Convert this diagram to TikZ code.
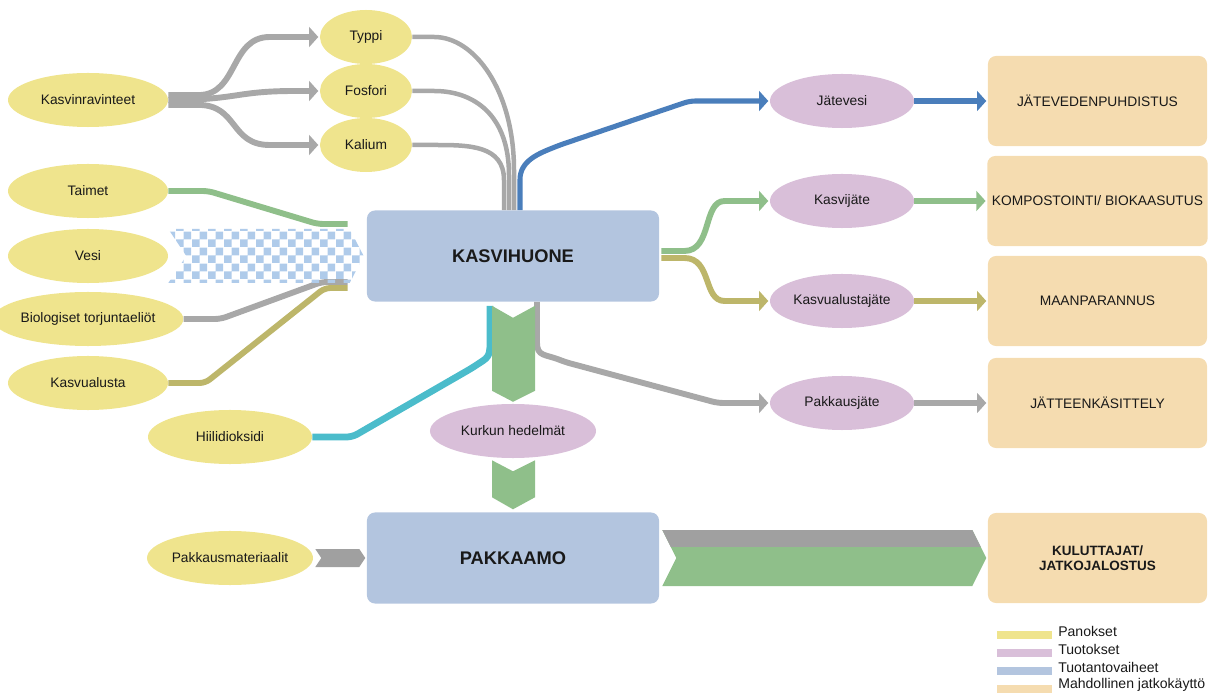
\documentclass[tikz,border=0pt]{standalone}
\usepackage{fontspec}
\setmainfont{Liberation Sans}
\usetikzlibrary{shapes.geometric,arrows.meta,patterns,calc}

\definecolor{cPanos}{HTML}{EFE48D}
\definecolor{cTuotos}{HTML}{D9BFD9}
\definecolor{cVaihe}{HTML}{B3C5DF}
\definecolor{cJatko}{HTML}{F5DCB0}
\definecolor{cGray}{HTML}{A8A8A8}
\definecolor{cGreen}{HTML}{8FBF8A}
\definecolor{cOlive}{HTML}{BDB66A}
\definecolor{cBlue}{HTML}{4A7EBB}
\definecolor{cCyan}{HTML}{4BBCCB}
\definecolor{cVesi}{HTML}{AFCBEA}
\newcommand\lblfont{\fontsize{9.8}{11}\selectfont}

\tikzset{
  input/.style={ellipse, fill=cPanos, inner sep=0pt, minimum width=4cm, minimum height=1.35cm, font=\lblfont, text=black!90},
  nutrient/.style={input, minimum width=2.3cm},
  output/.style={ellipse, fill=cTuotos, inner sep=0pt, minimum width=3.6cm, minimum height=1.35cm, font=\lblfont, text=black!90},
  stage/.style={rectangle, rounded corners=0.2cm, fill=cVaihe, minimum width=7.3cm, minimum height=2.275cm, font=\bfseries\fontsize{13}{15}\selectfont, text=black!90},
  reuse/.style={rectangle, rounded corners=0.2cm, fill=cJatko, minimum width=5.475cm, minimum height=2.25cm, font=\lblfont, text=black!90, align=center},
  flow/.style={line width=4.2pt},
  thinflow/.style={line width=3.2pt},
  flowarrow/.style={-{Triangle[length=6.5pt,width=14pt]}, shorten >=1pt}
}

\begin{document}
\begin{tikzpicture}[x=0.025cm,y=-0.025cm]
\useasboundingbox (0,0) rectangle (1212,695);

% panokset
\node[input] (ravinteet) at (88,100) {Kasvinravinteet};
\node[nutrient] (typpi) at (366,37) {Typpi};
\node[nutrient] (fosfori) at (366,91) {Fosfori};
\node[nutrient] (kalium) at (366,145) {Kalium};
\node[input] (taimet) at (88,191) {Taimet};
\node[input] (vesi) at (88,256) {Vesi};
\node[input] (torjunta) at (88,319) {Biologiset torjuntaeliöt};
\node[input] (kasvualusta) at (88,383) {Kasvualusta};
\node[input, minimum width=4.1cm] (hiili) at (230,437) {Hiilidioksidi};
\node[input, minimum width=4.15cm] (pakkmat) at (230,558) {Pakkausmateriaalit};

% vaiheet
\node[stage] (kasvihuone) at (513,256) {KASVIHUONE};
\node[stage] (pakkaamo) at (513,558) {PAKKAAMO};

% tuotokset
\node[output, minimum width=4.15cm] (kurkku) at (513,431) {Kurkun hedelmät};
\node[output] (jatevesi) at (842,101) {Jätevesi};
\node[output] (kasvijate) at (842,201) {Kasvijäte};
\node[output] (kalustajate) at (842,301) {Kasvualustajäte};
\node[output] (pakkjate) at (842,403) {Pakkausjäte};

% jatkokaytto
\node[reuse] (puhdistus) at (1097.5,101) {JÄTEVEDENPUHDISTUS};
\node[reuse] (kompost) at (1097.5,201) {KOMPOSTOINTI/ BIOKAASUTUS};
\node[reuse] (maanpar) at (1097.5,301) {MAANPARANNUS};
\node[reuse] (jatteenk) at (1097.5,403) {JÄTTEENKÄSITTELY};
\node[reuse, font=\bfseries\fontsize{9.6}{10.5}\selectfont] (kuluttajat) at (1097.5,558) {KULUTTAJAT/\\JATKOJALOSTUS};

% ravinteet
\draw[flow, cGray, flowarrow] ([yshift=3.5pt]ravinteet.east) -- ++(30,0) .. controls +(40,0) and +(-40,0) .. ($(typpi.west)+(-50,0)$) -- (typpi.west);
\draw[flow, cGray, flowarrow] (ravinteet.east) .. controls +(70,0) and +(-60,0) .. ($(fosfori.west)+(-25,0)$) -- (fosfori.west);
\draw[flow, cGray, flowarrow] ([yshift=-3.5pt]ravinteet.east) -- ++(30,0) .. controls +(40,0) and +(-40,0) .. ($(kalium.west)+(-50,0)$) -- (kalium.west);
\draw[thinflow, cGray] (typpi.east) -- ++(22,0) .. controls +(40,0) and +(0,-80) .. ($(kasvihuone.north)+(1,-40)$) -- ($(kasvihuone.north)+(1,0)$);
\draw[thinflow, cGray] (fosfori.east) -- ++(22,0) .. controls +(40,0) and +(0,-60) .. ($(kasvihuone.north)+(-4,-35)$) -- ($(kasvihuone.north)+(-4,0)$);
\draw[thinflow, cGray] (kalium.east) -- ++(22,0) .. controls +(35,0) and +(0,-35) .. ($(kasvihuone.north)+(-9,-30)$) -- ($(kasvihuone.north)+(-9,0)$);

% muut panokset
\draw[flow, cGreen, rounded corners=4pt] (taimet.east) -- ++(40,0) -- ($(kasvihuone.west)+(-49,-32)$) -- ($(kasvihuone.west)+(-19,-32)$);
\draw[flow, cGray, rounded corners=4pt] (torjunta.east) -- ++(37,0) -- ($(kasvihuone.west)+(-45,26)$) -- ($(kasvihuone.west)+(-19,26)$);
\draw[flow, cOlive, rounded corners=4pt] (kasvualusta.east) -- ++(37,0) -- ($(kasvihuone.west)+(-42,32)$) -- ($(kasvihuone.west)+(-19,32)$);
\fill[pattern=checkerboard, pattern color=cVesi] ($(vesi.east)+(0,-27)$) -- ($(kasvihuone.west)+(-17,-27)$) -- ($(kasvihuone.west)+(-3,0)$) -- ($(kasvihuone.west)+(-17,27)$) -- ($(vesi.east)+(0,27)$) -- ($(vesi.east)+(18,0)$) -- cycle;
\draw[flow, cCyan, line width=4.8pt, rounded corners=4pt] ($(kasvihuone.south)+(-23,4)$) -- ++(0,32) .. controls +(0,20) and +(15,-10) .. (472,368) -- ($(hiili.east)+(40,0)$) -- (hiili.east);

% tuotokset
\draw[thinflow, cBlue, line width=3.6pt, flowarrow, rounded corners=4pt] ($(kasvihuone.north)+(7,0)$) -- ++(0,-25) .. controls +(0,-25) and +(-20,8) .. (560,145) -- ($(jatevesi.west)+(-80,0)$) -- (jatevesi.west);
\draw[flow, cGreen, flowarrow] ($(kasvihuone.east)+(2,-5)$) -- ++(23,0) .. controls +(28,0) and +(-22,0) .. ($(kasvijate.west)+(-45,0)$) -- (kasvijate.west);
\draw[flow, cOlive, flowarrow] ($(kasvihuone.east)+(2,2)$) -- ++(23,0) .. controls +(28,0) and +(-22,0) .. ($(kalustajate.west)+(-45,0)$) -- (kalustajate.west);
\draw[flow, cGray, flowarrow, rounded corners=4pt] ($(kasvihuone.south)+(24,0)$) -- ++(0,35) .. controls +(0,20) and +(-20,-8) .. (565,362) -- ($(pakkjate.west)+(-52,0)$) -- (pakkjate.west);
\draw[flow, cBlue, flowarrow] (jatevesi.east) -- (puhdistus.west);
\draw[flow, cGreen, flowarrow] (kasvijate.east) -- (kompost.west);
\draw[flow, cOlive, flowarrow] (kalustajate.east) -- (maanpar.west);
\draw[flow, cGray, flowarrow] (pakkjate.east) -- (jatteenk.west);

% nuolet
\fill[cGreen, shift={(kasvihuone.south)}] (-21,4) -- (0,16) -- (22,4) -- (22,89) -- (0,100) -- (-21,89) -- cycle;
\fill[cGreen, shift={(kurkku.south)}] (-21,2) -- (0,13) -- (22,2) -- (22,39) -- (0,51) -- (-21,39) -- cycle;
\fill[cGray!95!black, shift={(pakkmat.east)}] (2,-9) -- (46,-9) -- (52,0) -- (46,9) -- (2,9) -- (8,0) -- cycle;
\begin{scope}[shift={(pakkaamo.east)}]
\fill[cGreen] (3,-28) -- (313,-28) -- (327,0) -- (313,28) -- (3,28) -- (17,0) -- cycle;
\clip (0,-30) rectangle (330,-12);
\fill[cGray!95!black] (3,-28) -- (313,-28) -- (327,0) -- (313,28) -- (3,28) -- (17,0) -- cycle;
\end{scope}

% selite
\foreach \c/\t [count=\i] in {cPanos/Panokset, cTuotos/Tuotokset, cVaihe/Tuotantovaiheet, cJatko/Mahdollinen jatkokäyttö} {
  \fill[\c] (997,{613+18*\i}) rectangle (1052,{621+18*\i});
  \node[anchor=west, inner sep=0pt, font=\fontsize{10}{12}\selectfont, text=black!90] (sel\i) at (1058,{613+18*\i}) {\t};
}
\end{tikzpicture}
\end{document}
